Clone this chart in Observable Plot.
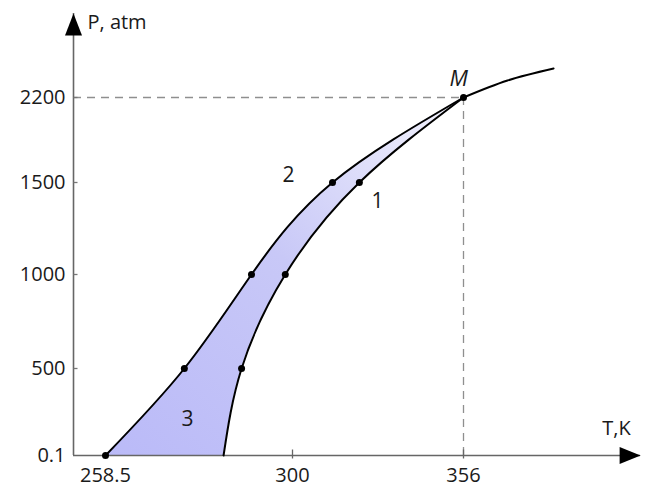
<!DOCTYPE html>
<html>
<head>
<meta charset="utf-8">
<script src="https://cdn.jsdelivr.net/npm/d3@7"></script>
<script src="https://cdn.jsdelivr.net/npm/@observablehq/plot@0.6"></script>
<style>
  html, body { margin: 0; padding: 0; background: #fff; }
  svg { display: block; }
</style>
</head>
<body>
<div id="chart"></div>
<script>
// ---- data ----
const tTicks = [258.5, 300, 356];            // T, K tick labels
const pTicks = [0.1, 500, 1000, 1500, 2200]; // P, atm tick labels
// curve 2 (left boundary) and curve 1 (right boundary), T at each P level
const curveP  = [0.1, 500, 1000, 1500, 2200];
const curve2T = [258.5, 276.0, 290.9, 313.1, 356];
const curve1T = [284.7, 288.7, 298.4, 321.9, 356];
// single curve continuing past point M
const extT = [356, 370.4, 385.5];
const extP = [2200, 2340, 2439];
// axis extents (origin and arrow tips)
const axisT = [251.4, 414.0];
const axisP = [0.1, 2892];
// curve labels
const labels = [
  {text: "2", T: 299.1, P: 1558},
  {text: "1", T: 327.8, P: 1397},
  {text: "3", T: 276.7, P: 207}
];
const pointM = {text: "M", T: 354.4, P: 2356};

// ---- derived tables ----
const curve2 = curveP.map((P, i) => ({P, T: curve2T[i]}));
const curve1 = curveP.map((P, i) => ({P, T: curve1T[i]}));
const band = curveP.map((P, i) => ({P, T1: curve1T[i], T2: curve2T[i]}));
const ext = extP.map((P, i) => ({P, T: extT[i]}));
const dots = [...curve2, ...curve1.slice(1, 4)];

const font = "'Open Sans', sans-serif";
const arrowRight = {draw(ctx) { ctx.moveTo(0, 0); ctx.lineTo(-21, -8.5); ctx.lineTo(-21, 8.5); ctx.closePath(); }};
const arrowUp = {draw(ctx) { ctx.moveTo(0, 0); ctx.lineTo(-8.5, 22); ctx.lineTo(8.5, 22); ctx.closePath(); }};
const tickRightSym = {draw(ctx) { ctx.moveTo(0, 0); ctx.lineTo(4, 0); }};
const tickVertSym = {draw(ctx) { ctx.moveTo(0, -6); ctx.lineTo(0, 3); }};
const crv = "natural";

const plot = Plot.plot({
  width: 667,
  height: 489,
  margin: 0,
  style: {fontFamily: font, background: "white", overflow: "visible"},
  x: {type: "linear", domain: [258.5, 300, 356], range: [105, 292, 463], axis: null},
  y: {type: "linear", domain: [0.1, 500, 1000, 1500, 2200], range: [455, 368, 274, 182, 97], axis: null},
  marks: [
    // shaded region 3 between curves
    Plot.areaX(band, {y: "P", x1: "T2", x2: "T1", curve: crv, fill: "url(#bandGrad)"}),
    // dashed guides to M
    Plot.ruleY([2200], {x1: axisT[0], x2: 356, stroke: "#8f8f8f", strokeWidth: 1.3, strokeDasharray: "8,6"}),
    Plot.ruleX([356], {y1: axisP[0], y2: 2200, stroke: "#8f8f8f", strokeWidth: 1.3, strokeDasharray: "8,6"}),
    // axes
    Plot.ruleY([axisP[0]], {x1: axisT[0], x2: axisT[1], stroke: "#666", strokeWidth: 1.6}),
    Plot.ruleX([axisT[0]], {y1: axisP[0], y2: axisP[1], stroke: "#666", strokeWidth: 1.6}),
    Plot.dot([{T: axisT[1], P: axisP[0]}], {x: "T", y: "P", symbol: arrowRight, r: 5, fill: "black", stroke: "none"}),
    Plot.dot([{T: axisT[0], P: axisP[1]}], {x: "T", y: "P", symbol: arrowUp, r: 5, fill: "black", stroke: "none"}),
    // tick marks
    Plot.dot(pTicks.slice(1), {x: () => axisT[0], y: d => d, symbol: tickRightSym, r: 3, fill: "none", stroke: "#777", strokeWidth: 1.3}),
    Plot.dot(tTicks.slice(1), {x: d => d, y: () => axisP[0], symbol: tickVertSym, r: 3, fill: "none", stroke: "#666", strokeWidth: 1.3}),
    // tick labels
    Plot.text(pTicks, {x: () => axisT[0], y: d => d, text: d => String(d), dx: -8, textAnchor: "end", fontSize: 20, fill: "#1a1a1a"}),
    Plot.text(tTicks, {x: d => d, y: () => axisP[0], text: d => String(d), dy: 20, fontSize: 20, fill: "#1a1a1a"}),
    // axis titles
    Plot.text(["P, atm"], {x: () => 254.5, y: () => 2818, text: d => d, textAnchor: "start", fontSize: 20, fill: "#1a1a1a"}),
    Plot.text(["T,K"], {x: () => 406.1, y: () => 155, text: d => d, fontSize: 20, fill: "#1a1a1a"}),
    // curves
    Plot.line(curve2, {x: "T", y: "P", curve: crv, stroke: "black", strokeWidth: 2}),
    Plot.line(curve1, {x: "T", y: "P", curve: crv, stroke: "black", strokeWidth: 2}),
    Plot.line(ext, {x: "T", y: "P", curve: "catmull-rom", stroke: "black", strokeWidth: 2}),
    Plot.dot(dots, {x: "T", y: "P", r: 3.5, fill: "black"}),
    // labels
    Plot.text(labels, {x: "T", y: "P", text: "text", fontSize: 21, fill: "#1a1a1a"}),
    Plot.text([pointM], {x: "T", y: "P", text: "text", fontSize: 22, fontStyle: "italic", fill: "#1a1a1a"})
  ]
});

const defs = d3.select(plot).insert("defs", ":first-child");
const g = defs.append("linearGradient").attr("id", "bandGrad")
  .attr("x1", 0).attr("y1", 1).attr("x2", 0.9).attr("y2", 0);
g.append("stop").attr("offset", 0).attr("stop-color", "#babaf8");
g.append("stop").attr("offset", 0.55).attr("stop-color", "#c8c8f7");
g.append("stop").attr("offset", 1).attr("stop-color", "#efeffc");

document.getElementById("chart").appendChild(plot);
</script>
</body>
</html>
